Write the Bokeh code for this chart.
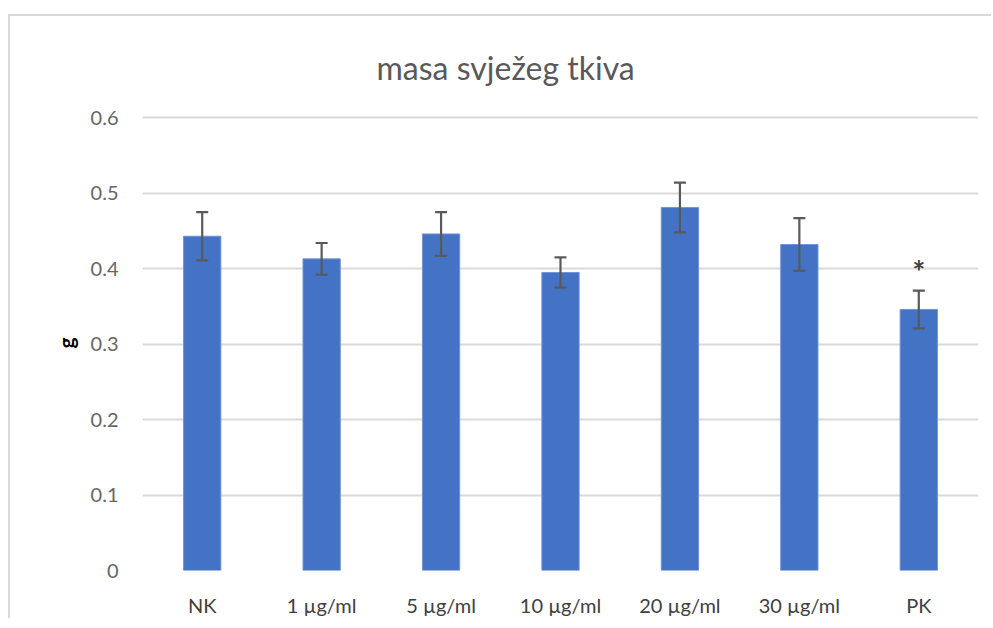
from bokeh.plotting import figure
from bokeh.models import ColumnDataSource, Whisker, TeeHead, Range1d, FixedTicker
from bokeh.core.properties import value
from bokeh.embed import file_html
from bokeh.resources import INLINE

categories = ["NK", "1 µg/ml", "5 µg/ml", "10 µg/ml", "20 µg/ml", "30 µg/ml", "PK"]
means = [0.443, 0.413, 0.446, 0.395, 0.481, 0.432, 0.346]
errors = [0.032, 0.021, 0.029, 0.020, 0.033, 0.035, 0.025]
significance = ["", "", "", "", "", "", "*"]
y_ticks = [0, 0.1, 0.2, 0.3, 0.4, 0.5, 0.6]

FONT = "Lato"

upper = [m + e for m, e in zip(means, errors)]
lower = [m - e for m, e in zip(means, errors)]
star_y = [u + 0.002 for u in upper]

src = ColumnDataSource(dict(cat=categories, val=means, upper=upper, lower=lower,
                            sig=significance, sy=star_y))

p = figure(x_range=categories, y_range=Range1d(0, 0.603), width=983, height=604,
           output_backend="svg", toolbar_location=None,
           min_border_left=132, min_border_right=15, min_border_top=99, min_border_bottom=50)

p.styles = {"border-left": "2px solid #d9d9d9", "border-top": "2px solid #d9d9d9",
            "margin-left": "8px", "margin-top": "14px"}

p.title.text = "masa svježeg tkiva"
p.title.align = "left"
p.title.offset = 234
p.title.text_font = FONT
p.title.text_font_size = "32px"
p.title.text_font_style = "normal"
p.title.text_color = "#595959"
p.title.standoff = 57

p.vbar(x="cat", top="val", width=0.312, source=src, fill_color="#4472C4",
       line_color="#6f93d6", line_width=1)

w = Whisker(source=src, base="cat", upper="upper", lower="lower",
            line_color="#595959", line_width=2.2, level="overlay",
            upper_head=TeeHead(size=12, line_color="#595959", line_width=2.2),
            lower_head=TeeHead(size=12, line_color="#595959", line_width=2.2))
p.add_layout(w)

p.text(x="cat", y="sy", text="sig", source=src, text_align="center", text_baseline="bottom",
       text_font=value(FONT), text_font_size="30px", text_font_style="bold",
       text_color="#404040")

p.outline_line_color = None
p.xgrid.grid_line_color = None
p.ygrid.grid_line_color = "#d9d9d9"
p.ygrid.grid_line_width = 1.8
p.yaxis.ticker = FixedTicker(ticks=y_ticks)

for ax in (p.xaxis, p.yaxis):
    ax.axis_line_color = None
    ax.major_tick_line_color = None
    ax.minor_tick_line_color = None
    ax.major_tick_out = 0
    ax.major_tick_in = 0
    ax.minor_tick_out = 0
    ax.minor_tick_in = 0

p.yaxis.major_label_text_font = FONT
p.yaxis.major_label_text_font_size = "20px"
p.yaxis.major_label_text_color = "#666666"
p.yaxis.major_label_standoff = 24
p.yaxis.axis_label = "g"
p.yaxis.axis_label_text_font = FONT
p.yaxis.axis_label_text_font_size = "21px"
p.yaxis.axis_label_text_font_style = "bold"
p.yaxis.axis_label_text_color = "#000000"
p.yaxis.axis_label_standoff = 10

p.xaxis.major_label_text_font = FONT
p.xaxis.major_label_text_font_size = "20px"
p.xaxis.major_label_text_color = "#404040"
p.xaxis.major_label_standoff = 22

open("out.html", "w").write(file_html(p, INLINE))
